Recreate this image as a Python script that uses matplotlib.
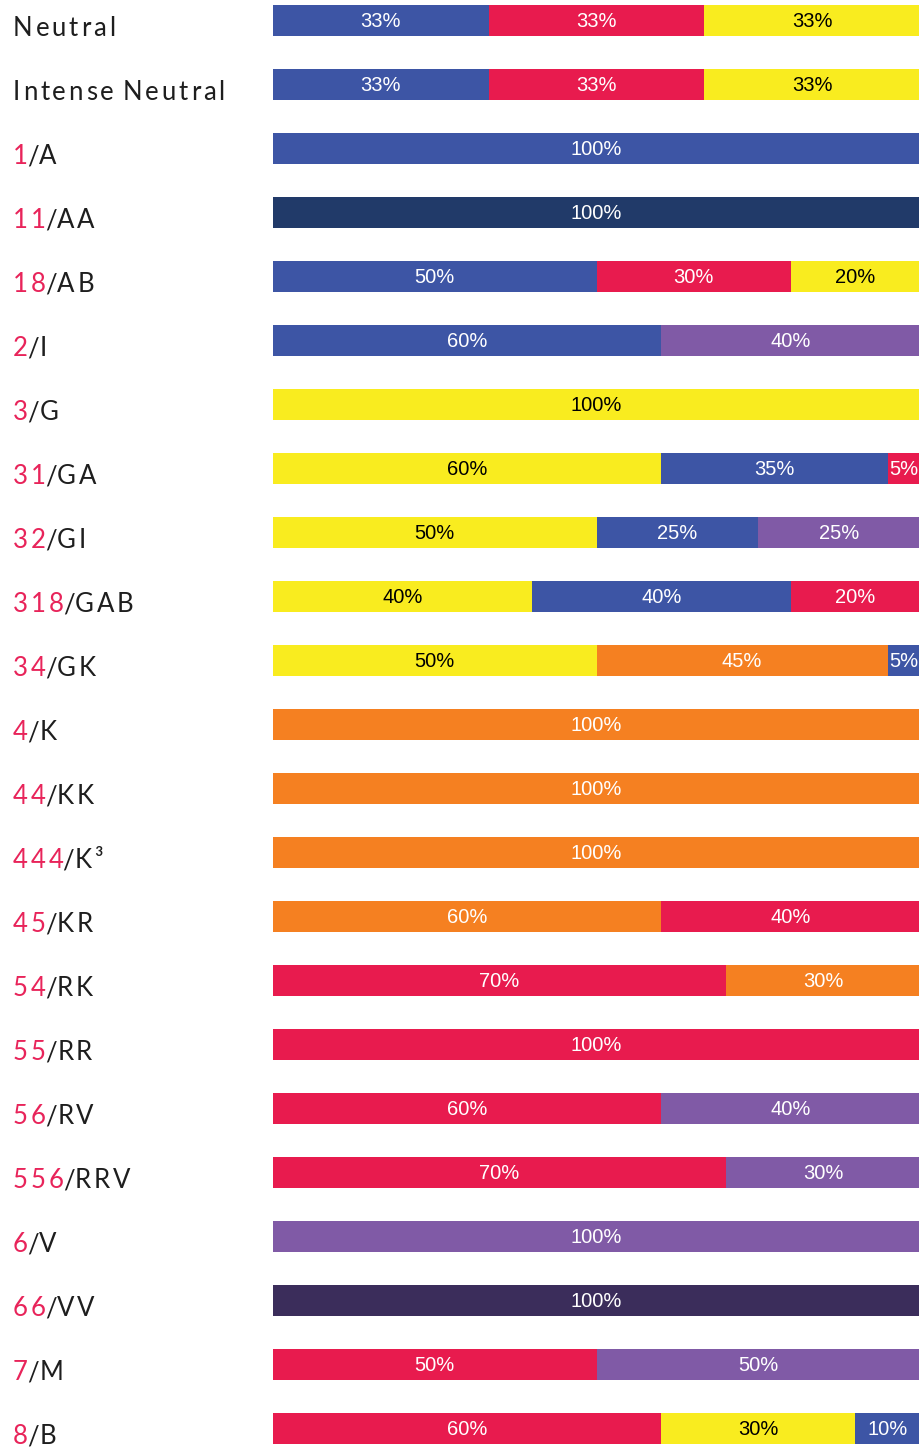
import matplotlib

matplotlib.use("Agg")
import matplotlib.pyplot as plt  # noqa: E402

# row labels: red code part and black name part
codes = ["", "", "1", "11", "18", "2", "3", "31", "32", "318", "34", "4", "44",
         "444", "45", "54", "55", "56", "556", "6", "66", "7", "8"]
names = ["Neutral", "Intense Neutral", "/A", "/AA", "/AB", "/I", "/G", "/GA",
         "/GI", "/GAB", "/GK", "/K", "/KK", "/K³", "/KR", "/RK", "/RR", "/RV",
         "/RRV", "/V", "/VV", "/M", "/B"]

# percentage shares per row and the colour of each share
shares = [
    [33, 33, 33], [33, 33, 33], [100], [100], [50, 30, 20], [60, 40], [100],
    [60, 35, 5], [50, 25, 25], [40, 40, 20], [50, 45, 5], [100], [100], [100],
    [60, 40], [70, 30], [100], [60, 40], [70, 30], [100], [100], [50, 50],
    [60, 30, 10],
]
share_colors = [
    ["blue", "red", "yellow"], ["blue", "red", "yellow"], ["blue"], ["navy"],
    ["blue", "red", "yellow"], ["blue", "purple"], ["yellow"],
    ["yellow", "blue", "red"], ["yellow", "blue", "purple"],
    ["yellow", "blue", "red"], ["yellow", "orange", "blue"], ["orange"],
    ["orange"], ["orange"], ["orange", "red"], ["red", "orange"], ["red"],
    ["red", "purple"], ["red", "purple"], ["purple"], ["plum"],
    ["red", "purple"], ["red", "yellow", "blue"],
]

palette = {
    "blue": "#3D55A5",
    "red": "#E81B4E",
    "yellow": "#F9EC1F",
    "purple": "#805AA6",
    "orange": "#F58021",
    "navy": "#213A69",
    "plum": "#3B2D5B",
}

W, H, DPI = 920, 1447, 100
ROW_PX = 64
TOP_PX = 20
BAR_LEFT = 273
CODE_RED = "#E8245A"
INK = "#1E1E1E"

fig = plt.figure(figsize=(W / DPI, H / DPI), dpi=DPI)
ax = fig.add_axes([BAR_LEFT / W, 0, (W - BAR_LEFT) / W, 1])
ax.set_xlim(0, 100)
ax.set_ylim((H - TOP_PX) / ROW_PX, -TOP_PX / ROW_PX)
ax.axis("off")

for i, (vals, cols) in enumerate(zip(shares, share_colors)):
    total = sum(vals)
    left = 0.0
    for v, c in zip(vals, cols):
        width = v / total * 100
        ax.barh(i, width, left=left, height=31 / ROW_PX, color=palette[c],
                edgecolor="none")
        txt_color = "black" if c == "yellow" else "white"
        ax.text(left + width / 2, i + 0.03, f"{v}%", ha="center", va="center",
                color=txt_color, fontsize=14.5, family="Liberation Sans")
        left += width


def tracked(ax, x, y, s, color, prev=None, size=18.5, spacing=2.0):
    """Draw a string one character at a time to mimic letter spacing."""
    gap = 0.0
    for ch in s:
        if ch == " ":
            gap += size * 0.26
            continue
        kw = dict(color=color, fontsize=size, family="Lato", ha="left", va="bottom")
        if prev is None:
            prev = ax.text(x, y, ch, transform=ax.get_yaxis_transform(),
                           **{**kw, "va": "baseline"})
        else:
            step = spacing + gap
            if ch == "/":
                step = -0.6
            elif prev.get_text() == "/":
                step = 0.4
            prev = ax.annotate(ch, xy=(1, 0), xycoords=prev, xytext=(step, 0),
                               textcoords="offset points", **kw)
        gap = 0.0
    return prev


label_x = (13 - BAR_LEFT) / (W - BAR_LEFT)
for i, (code, name) in enumerate(zip(codes, names)):
    y = i + 16 / ROW_PX
    last = tracked(ax, label_x, y, code, CODE_RED) if code else None
    tracked(ax, label_x, y, name, INK, prev=last)

fig.savefig("out.png", dpi=DPI)
